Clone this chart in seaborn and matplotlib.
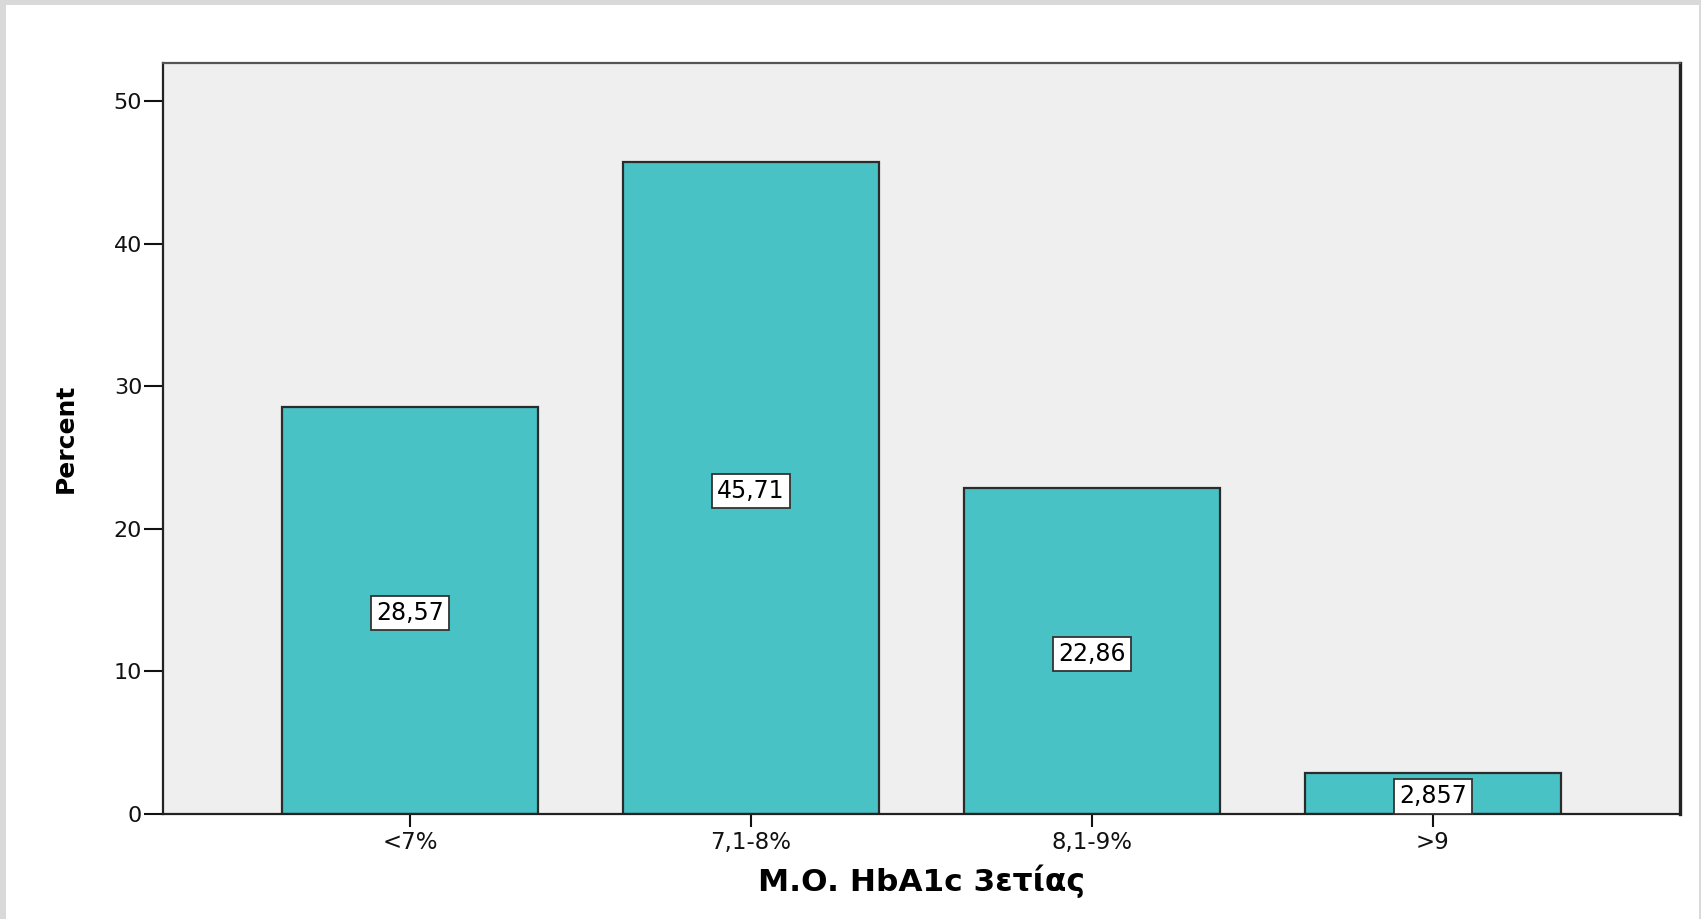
import matplotlib
matplotlib.use("Agg")
import matplotlib.pyplot as plt
from matplotlib.patches import Rectangle
import seaborn as sns
import pandas as pd

categories = ["<7%", "7,1-8%", "8,1-9%", ">9"]
percent = [28.57, 45.71, 22.86, 2.857]
value_labels = ["28,57", "45,71", "22,86", "2,857"]
y_ticks = [0, 10, 20, 30, 40, 50]
x_title = "M.O. HbA1c 3ετίας"
y_title = "Percent"

BAR = "#49C2C6"
BG = "#EFEFEF"
EDGE = "#2b2b2b"

plt.rcParams["font.family"] = ["DejaVu Sans"]

df = pd.DataFrame({"cat": categories, "pct": percent})

fig = plt.figure(figsize=(17.01, 9.19), dpi=100)
fig.patch.set_facecolor("white")
ax = fig.add_axes([163 / 1701, 1 - 814 / 919, (1680 - 163) / 1701, (814 - 63) / 919])
ax.set_facecolor(BG)

sns.barplot(data=df, x="cat", y="pct", color=BAR, width=0.75, edgecolor=EDGE,
            linewidth=1.6, saturation=1, ax=ax, zorder=2)

for i, (v, lab) in enumerate(zip(percent, value_labels)):
    ax.text(i, v / 2 - 0.2, lab, ha="center", va="center", fontsize=17, color="black",
            zorder=5,
            bbox=dict(boxstyle="square,pad=0.22", facecolor="white", edgecolor="#333333",
                      linewidth=1.3))

ax.set_xlim(-0.725, 3.725)
ax.set_ylim(0, 52.66)
ax.set_yticks(y_ticks)
ax.set_yticklabels([str(t) for t in y_ticks], fontsize=16, color="#111111")
ax.tick_params(axis="y", length=14, width=1.5, pad=1, color="#111111")
ax.tick_params(axis="x", length=9, width=1.5, pad=3, labelsize=16.5, color="#111111",
               labelcolor="#111111")

for side in ["left", "bottom", "top", "right"]:
    ax.spines[side].set_color("#222222")
    ax.spines[side].set_linewidth(1.6)
ax.spines["right"].set_linewidth(2.4)
ax.spines["top"].set_color("#555555")

ax.set_xlabel(x_title, fontsize=22.5, fontweight="bold", labelpad=8, color="black")
ax.set_ylabel(y_title, fontsize=18, fontweight="bold", labelpad=26, color="black")

# light gray outer frame
gray = "#D9D9D9"
fig.patches.append(Rectangle((0, 0), 6 / 1701, 1, transform=fig.transFigure,
                             facecolor=gray, edgecolor="none", zorder=10))
fig.patches.append(Rectangle((0, 1 - 5 / 919), 1, 5 / 919, transform=fig.transFigure,
                             facecolor=gray, edgecolor="none", zorder=10))
fig.patches.append(Rectangle((1 - 2 / 1701, 0), 2 / 1701, 1, transform=fig.transFigure,
                             facecolor=gray, edgecolor="none", zorder=10))

fig.savefig("out.png", dpi=100, facecolor="white")
